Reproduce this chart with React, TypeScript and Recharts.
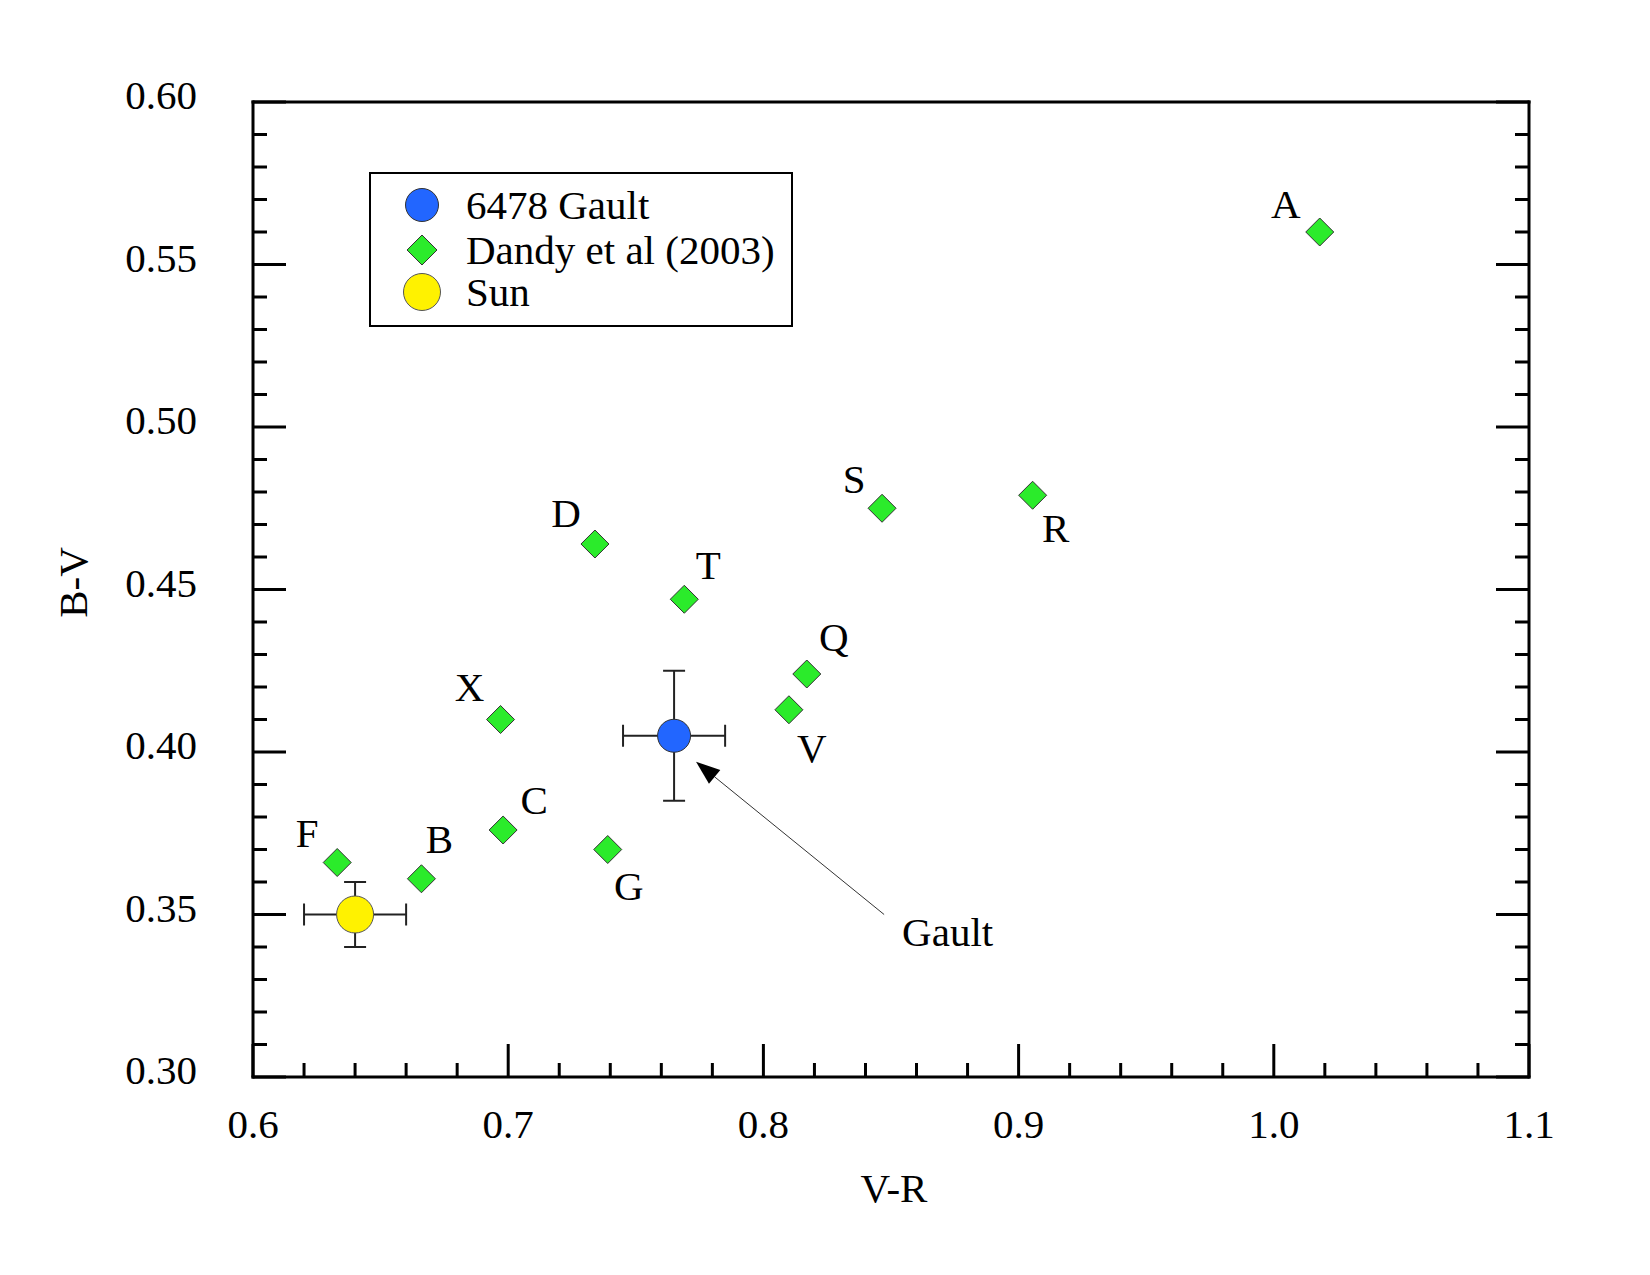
import React from "react";
import {
  ErrorBar,
  Legend,
  ReferenceLine,
  Scatter,
  ScatterChart,
  XAxis,
  YAxis
} from "recharts";

// colour indices: V-R on x, B-V on y
const dandyNames = ["A", "S", "R", "D", "T", "Q", "V", "X", "C", "G", "F", "B"];
const dandyVR = [1.018, 0.8465, 0.9055, 0.734, 0.769, 0.817, 0.81, 0.697, 0.698, 0.739, 0.633, 0.666];
const dandyBV = [0.56, 0.475, 0.479, 0.464, 0.447, 0.424, 0.413, 0.41, 0.376, 0.37, 0.366, 0.361];

const gaultVR = [0.765];
const gaultBV = [0.405];
const gaultErrVR = [0.02];
const gaultErrBV = [0.02];

const sunVR = [0.64];
const sunBV = [0.35];
const sunErrVR = [0.02];
const sunErrBV = [0.01];

const xMajorTicks = [0.6, 0.7, 0.8, 0.9, 1.0, 1.1];
const yMajorTicks = [0.3, 0.35, 0.4, 0.45, 0.5, 0.55, 0.6];

// arrow from the "Gault" note back to the asteroid
const arrowTail = { x: 0.8473, y: 0.35 };
const arrowTip = { x: 0.7736, y: 0.397 };

const dandyData = dandyNames.map((name, i) => ({ name, vr: dandyVR[i], bv: dandyBV[i] }));
const gaultData = gaultVR.map((vr, i) => ({ vr, bv: gaultBV[i], ex: gaultErrVR[i], ey: gaultErrBV[i] }));
const sunData = sunVR.map((vr, i) => ({ vr, bv: sunBV[i], ex: sunErrVR[i], ey: sunErrBV[i] }));

// minor ticks: 5 per major step on both axes
const subdivide = (majors: number[], n: number) => {
  const out: number[] = [];
  for (let i = 0; i < majors.length - 1; i++) {
    const step = (majors[i + 1] - majors[i]) / n;
    for (let k = 0; k < n; k++) out.push(+(majors[i] + k * step).toFixed(4));
  }
  out.push(majors[majors.length - 1]);
  return out;
};
const xTicks = subdivide(xMajorTicks, 5);
const yTicks = subdivide(yMajorTicks, 5);

const isMajor = (v: number, majors: number[]) => majors.some((m) => Math.abs(m - v) < 1e-6);

// label placement next to each Dandy marker (dx, dy to text baseline)
const labelOffsets: Record<string, [number, number]> = {
  A: [-34, -14],
  S: [-28, -15],
  R: [23, 47],
  D: [-29, -17],
  T: [24, -20],
  Q: [27, -23],
  V: [23, 52],
  X: [-31, -19],
  C: [31, -16],
  G: [21, 50],
  F: [-30, -16],
  B: [18, -26]
};

const FONT = '"Liberation Serif", "Times New Roman", Times, serif';
const FS = 41;
const BLUE = "#2266ff";
const GREEN = "#2beb2b";
const YELLOW = "#fff200";
const MAJOR_LEN = 33;
const MINOR_LEN = 14;

function Diamond({ cx, cy, r = 14 }: { cx: number; cy: number; r?: number }) {
  return (
    <polygon
      points={`${cx},${cy - r} ${cx + r},${cy} ${cx},${cy + r} ${cx - r},${cy}`}
      fill={GREEN}
      stroke="#333"
      strokeWidth={1}
    />
  );
}

function DandyShape(props: any) {
  const { cx, cy, payload } = props;
  const [dx, dy] = labelOffsets[payload.name] ?? [20, -20];
  return (
    <g>
      <Diamond cx={cx} cy={cy} />
      <text x={cx + dx} y={cy + dy} textAnchor="middle" fontFamily={FONT} fontSize={FS} fill="#000">
        {payload.name}
      </text>
    </g>
  );
}

const GaultShape = (props: any) => (
  <circle cx={props.cx} cy={props.cy} r={16.5} fill={BLUE} stroke="#333" strokeWidth={1} />
);
const SunShape = (props: any) => (
  <circle cx={props.cx} cy={props.cy} r={18.5} fill={YELLOW} stroke="#555" strokeWidth={1} />
);

// ticks point inward from the frame; labels only on bottom/left majors
function BottomTick({ x, y, payload }: any) {
  const major = isMajor(payload.value, xMajorTicks);
  return (
    <g>
      <line x1={x} y1={y} x2={x} y2={y - (major ? MAJOR_LEN : MINOR_LEN)} stroke="#000" strokeWidth={3} />
      {major && (
        <text x={x} y={y + 61} textAnchor="middle" fontFamily={FONT} fontSize={FS} fill="#000">
          {payload.value.toFixed(1)}
        </text>
      )}
    </g>
  );
}

function TopTick({ x, y, payload }: any) {
  const major = isMajor(payload.value, xMajorTicks);
  return <line x1={x} y1={y} x2={x} y2={y + (major ? MAJOR_LEN : MINOR_LEN)} stroke="#000" strokeWidth={3} />;
}

function LeftTick({ x, y, payload }: any) {
  const major = isMajor(payload.value, yMajorTicks);
  return (
    <g>
      <line x1={x} y1={y} x2={x + (major ? MAJOR_LEN : MINOR_LEN)} y2={y} stroke="#000" strokeWidth={3} />
      {major && (
        <text x={x - 56} y={y + 7} textAnchor="end" fontFamily={FONT} fontSize={FS} fill="#000">
          {payload.value.toFixed(2)}
        </text>
      )}
    </g>
  );
}

function RightTick({ x, y, payload }: any) {
  const major = isMajor(payload.value, yMajorTicks);
  return <line x1={x} y1={y} x2={x - (major ? MAJOR_LEN : MINOR_LEN)} y2={y} stroke="#000" strokeWidth={3} />;
}

function ArrowShape({ x1, y1, x2, y2 }: any) {
  const ang = Math.atan2(y2 - y1, x2 - x1);
  const len = 24;
  const half = 9;
  const bx = x2 - len * Math.cos(ang);
  const by = y2 - len * Math.sin(ang);
  const px = -Math.sin(ang) * half;
  const py = Math.cos(ang) * half;
  return (
    <g>
      <line x1={x1} y1={y1} x2={bx} y2={by} stroke="#333" strokeWidth={1} />
      <polygon points={`${x2},${y2} ${bx + px},${by + py} ${bx - px},${by - py}`} fill="#000" />
      <text x={x1 + 18} y={y1 + 31} fontFamily={FONT} fontSize={FS} fill="#000">
        Gault
      </text>
    </g>
  );
}

const legendMarkers = [
  (cx: number, cy: number) => <circle cx={cx} cy={cy} r={16.5} fill={BLUE} stroke="#333" strokeWidth={1} />,
  (cx: number, cy: number) => <Diamond cx={cx} cy={cy} r={15} />,
  (cx: number, cy: number) => <circle cx={cx} cy={cy} r={18.5} fill={YELLOW} stroke="#555" strokeWidth={1} />
];
const legendRowsY = [33, 78, 120];

function LegendBox({ payload }: any) {
  const items = payload ?? [];
  return (
    <svg width={424} height={155} style={{ display: "block" }}>
      <rect x={1} y={1} width={422} height={153} fill="#fff" stroke="#000" strokeWidth={2} />
      {items.map((item: any, i: number) => (
        <g key={item.value}>
          {legendMarkers[i](53, legendRowsY[i])}
          <text x={97} y={legendRowsY[i] + 14} fontFamily={FONT} fontSize={FS} fill="#000">
            {item.value}
          </text>
        </g>
      ))}
    </svg>
  );
}

export default function App() {
  const frame = { stroke: "#000", strokeWidth: 3, strokeLinecap: "square" as const };
  return (
    <div style={{ position: "absolute", left: 0, top: 0, width: 1650, height: 1275, background: "#fff" }}>
      <ScatterChart width={1650} height={1275} margin={{ top: 92, right: 111, bottom: 138, left: 153 }}>
        <XAxis
          xAxisId="b"
          type="number"
          dataKey="vr"
          domain={[0.6, 1.1]}
          ticks={xTicks}
          interval={0}
          height={60}
          allowDataOverflow
          axisLine={frame}
          tickLine={false}
          tickSize={0}
          tickMargin={0}
          tick={<BottomTick />}
          label={(p: any) => {
            const vb = p.viewBox;
            return (
              <text x={vb.x + vb.width / 2 + 3} y={vb.y + 125} textAnchor="middle" fontFamily={FONT} fontSize={FS} fill="#000">
                V-R
              </text>
            );
          }}
        />
        <XAxis
          xAxisId="t"
          orientation="top"
          type="number"
          domain={[0.6, 1.1]}
          ticks={xTicks}
          interval={0}
          height={10}
          allowDataOverflow
          axisLine={frame}
          tickLine={false}
          tickSize={0}
          tickMargin={0}
          tick={<TopTick />}
        />
        <YAxis
          yAxisId="l"
          type="number"
          dataKey="bv"
          domain={[0.3, 0.6]}
          ticks={yTicks}
          interval={0}
          width={100}
          allowDataOverflow
          axisLine={frame}
          tickLine={false}
          tickSize={0}
          tickMargin={0}
          tick={<LeftTick />}
          label={(p: any) => {
            const vb = p.viewBox;
            const lx = vb.x - 66;
            const ly = vb.y + vb.height / 2 - 7;
            return (
              <text x={lx} y={ly} transform={`rotate(-90 ${lx} ${ly})`} textAnchor="middle" fontFamily={FONT} fontSize={FS} fill="#000">
                B-V
              </text>
            );
          }}
        />
        <YAxis
          yAxisId="r"
          orientation="right"
          type="number"
          domain={[0.3, 0.6]}
          ticks={yTicks}
          interval={0}
          width={10}
          allowDataOverflow
          axisLine={frame}
          tickLine={false}
          tickSize={0}
          tickMargin={0}
          tick={<RightTick />}
        />
        <ReferenceLine
          xAxisId="b"
          yAxisId="l"
          segment={[arrowTail, arrowTip]}
          shape={(p: any) => <ArrowShape {...p} />}
        />
        <Scatter name="6478 Gault" data={gaultData} xAxisId="b" yAxisId="l" fill={BLUE} shape={GaultShape} isAnimationActive={false}>
          <ErrorBar dataKey="ey" direction="y" width={11} stroke="#222" strokeWidth={2} />
          <ErrorBar dataKey="ex" direction="x" width={11} stroke="#222" strokeWidth={2} />
        </Scatter>
        <Scatter name="Dandy et al (2003)" data={dandyData} xAxisId="b" yAxisId="l" fill={GREEN} shape={DandyShape} isAnimationActive={false} />
        <Scatter name="Sun" data={sunData} xAxisId="b" yAxisId="l" fill={YELLOW} shape={SunShape} isAnimationActive={false}>
          <ErrorBar dataKey="ey" direction="y" width={11} stroke="#222" strokeWidth={2} />
          <ErrorBar dataKey="ex" direction="x" width={11} stroke="#222" strokeWidth={2} />
        </Scatter>
        <Legend
          layout="vertical"
          align="center"
          verticalAlign="middle"
          wrapperStyle={{ left: 369, top: 172, width: 424, height: 155 }}
          content={<LegendBox />}
        />
      </ScatterChart>
    </div>
  );
}
